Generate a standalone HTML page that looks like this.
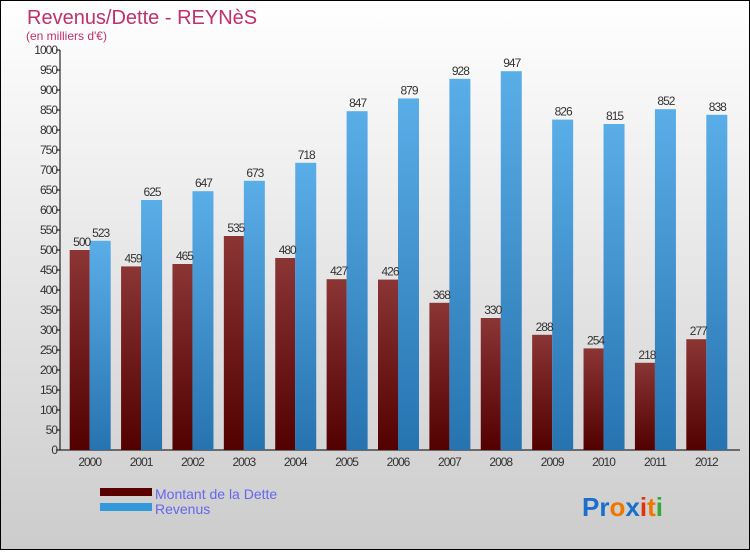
<!DOCTYPE html>
<html><head><meta charset="utf-8"><style>
body{margin:0;width:750px;height:550px;overflow:hidden;font-family:"Liberation Sans",sans-serif}
</style></head><body>
<svg width="750" height="550" xmlns="http://www.w3.org/2000/svg">
<defs>
<linearGradient id="bg" x1="0" y1="0" x2="0" y2="1"><stop offset="0" stop-color="#ffffff"/><stop offset="1" stop-color="#cccccc"/></linearGradient>
<linearGradient id="gd" x1="0" y1="0" x2="0" y2="1"><stop offset="0" stop-color="#8b3535"/><stop offset="1" stop-color="#520000"/></linearGradient>
<linearGradient id="gr" x1="0" y1="0" x2="0" y2="1"><stop offset="0" stop-color="#5aaee8"/><stop offset="1" stop-color="#2673b0"/></linearGradient>
</defs>
<rect x="0.5" y="0.5" width="749" height="549" fill="url(#bg)" stroke="#000"/>
<text x="27" y="24" font-size="20" fill="#c0306a">Revenus/Dette - REYNèS</text>
<text x="26" y="40" font-size="12" fill="#c0306a">(en milliers d'€)</text>
<g id="axes"></g>
<g id="bars"></g>
<g>
<rect x="100" y="488" width="52" height="8" fill="#5a0000"/>
<text x="155" y="499" font-size="14" fill="#6666ee">Montant de la Dette</text>
<rect x="100" y="503" width="52" height="8" fill="#3399dd"/>
<text x="155" y="514" font-size="14" fill="#6666ee">Revenus</text>
</g>
<text x="582" y="516" font-size="26" font-weight="bold"><tspan fill="#1a6fcc">Pr</tspan><tspan fill="#ee7700">o</tspan><tspan fill="#1a6fcc">x</tspan><tspan fill="#dd3311">i</tspan><tspan fill="#ee7700">t</tspan><tspan fill="#33aa33">i</tspan></text>
</svg>
<script>
const years=["2000","2001","2002","2003","2004","2005","2006","2007","2008","2009","2010","2011","2012"];
const dette=[500,459,465,535,480,427,426,368,330,288,254,218,277];
const revenus=[523,625,647,673,718,847,879,928,947,826,815,852,838];
const ticks=[0,50,100,150,200,250,300,350,400,450,500,550,600,650,700,750,800,850,900,950,1000];
const NS="http://www.w3.org/2000/svg";
const x0=60,x1=740,y0=450,yTop=50,maxV=1000;
const y=v=>y0-(v/maxV)*(y0-yTop);
const step=(x1-x0-12)/years.length;
const cx=i=>x0+4+step*(i+0.5);
function mk(tag,attrs,parent,txt){const e=document.createElementNS(NS,tag);for(const k in attrs)e.setAttribute(k,attrs[k]);if(txt!==undefined)e.textContent=txt;parent.appendChild(e);return e;}
const ax=document.getElementById('axes'),bg=document.getElementById('bars');
let l=mk('line',{x1:x0,y1:yTop,x2:x0,y2:y0,stroke:'#000'},ax);


l=mk('line',{x1:x0,y1:y0,x2:x1,y2:y0,stroke:'#000'},ax);


ticks.forEach(t=>{
 const tk=mk('line',{x1:x0-4,y1:y(t),x2:x0,y2:y(t),stroke:'#000'},ax);
 
 
 const tl=mk('text',{x:x0-3,y:y(t)+4,'font-size':12,'text-anchor':'end',fill:'#333','letter-spacing':'-1'},ax,String(t));
 
 
});
years.forEach((yr,i)=>{
 const c=cx(i);
 const d=mk('rect',{x:c-20,y:y(dette[i]),width:20,height:y0-y(dette[i]),fill:'url(#gd)'},bg);
 
 
 const r=mk('rect',{x:c,y:y(revenus[i]),width:21,height:y0-y(revenus[i]),fill:'url(#gr)'},bg);
 
 
 const dl=mk('text',{x:c-8,y:y(dette[i])-4,'font-size':12,'text-anchor':'middle',fill:'#333','letter-spacing':'-1'},bg,String(dette[i]));
 
 
 const rl=mk('text',{x:c+11,y:y(revenus[i])-4,'font-size':12,'text-anchor':'middle',fill:'#333','letter-spacing':'-1'},bg,String(revenus[i]));
 
 
 const xl=mk('text',{x:c,y:466,'font-size':12,'text-anchor':'middle',fill:'#333','letter-spacing':'-1'},ax,yr);
 
 
});
</script>
</body></html>
